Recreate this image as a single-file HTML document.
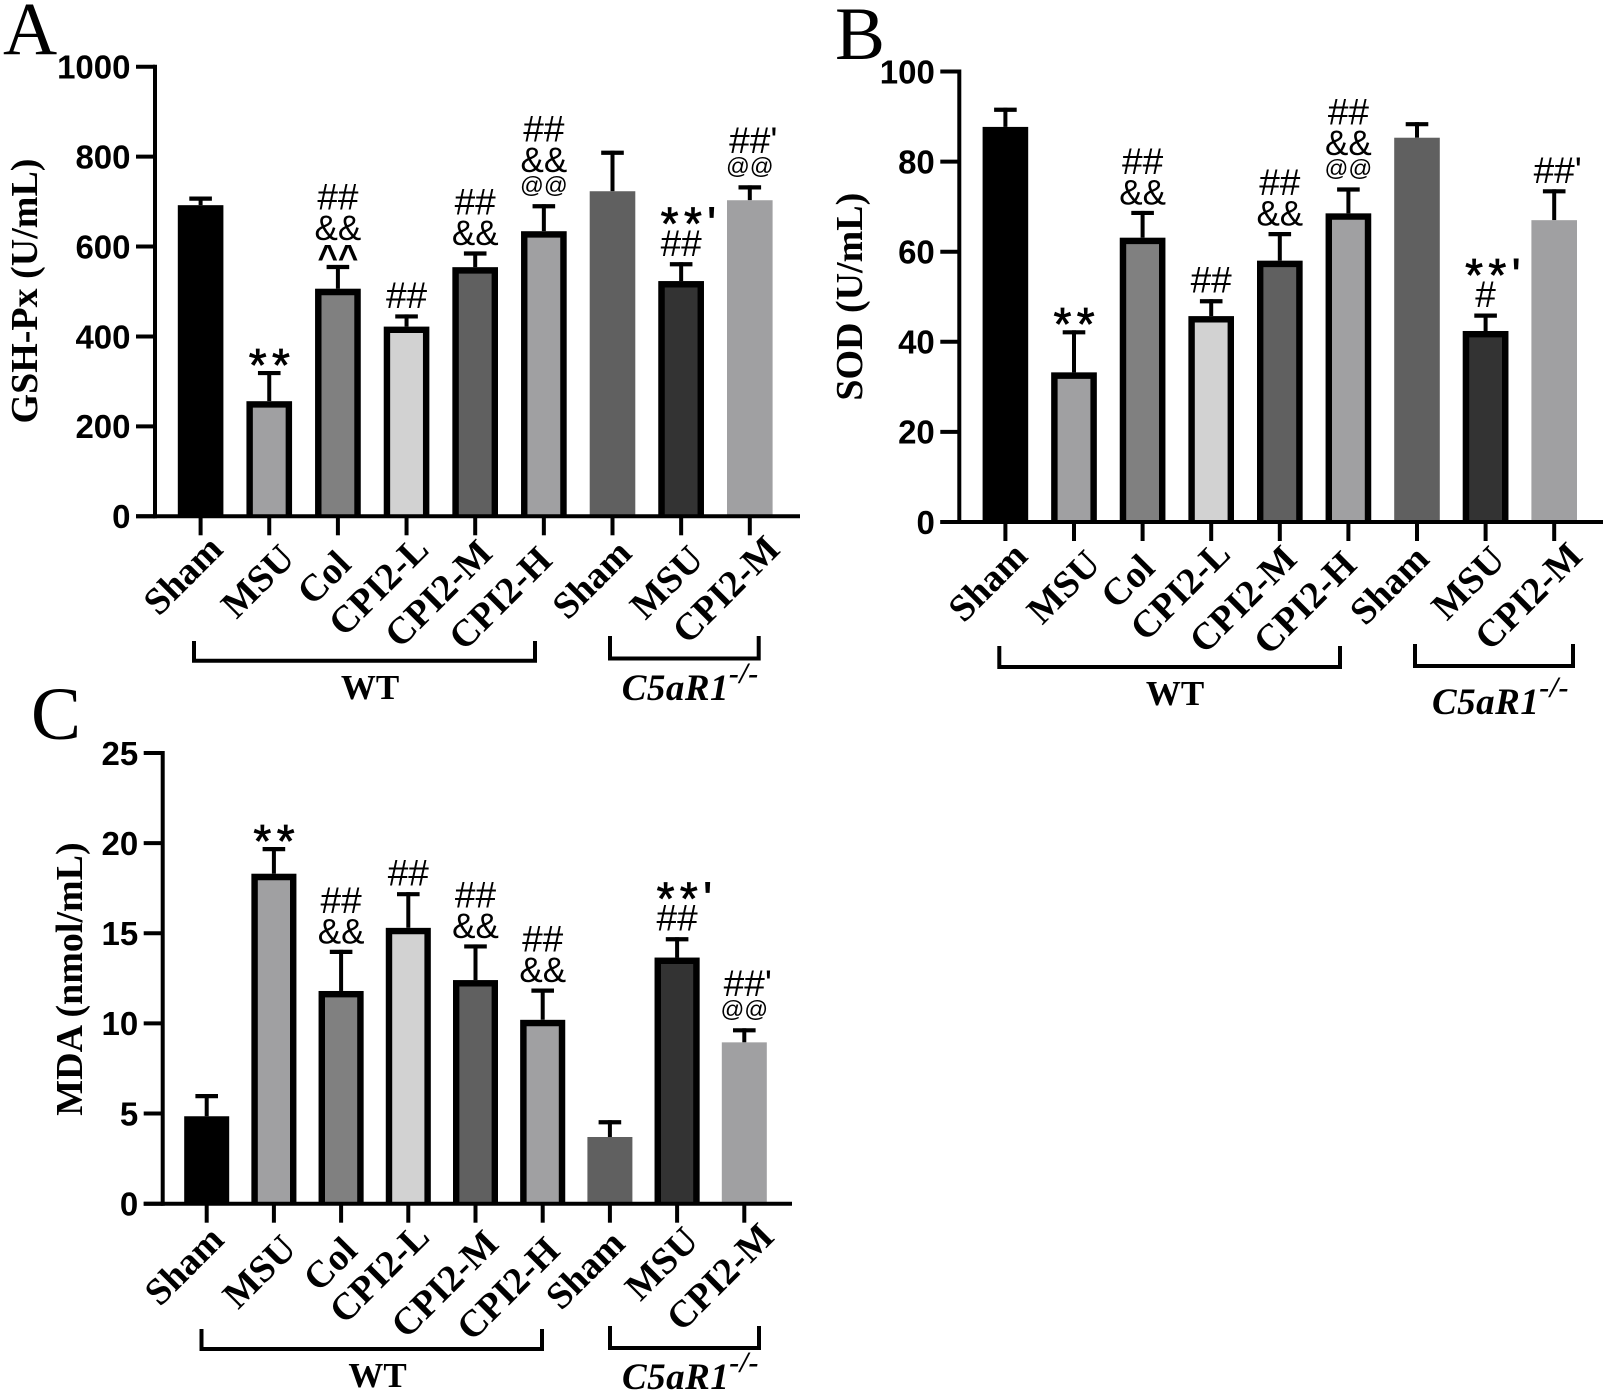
<!DOCTYPE html>
<html lang="en">
<head>
<meta charset="utf-8">
<title>GSH-Px, SOD and MDA bar charts</title>
<style>
html,body{margin:0;padding:0;background:#fff;width:1606px;height:1393px;overflow:hidden}
svg{display:block}
.serif{font-family:"Liberation Serif",serif}
.sans{font-family:"Liberation Sans",sans-serif}
</style>
</head>
<body>
<svg id="fig" xmlns="http://www.w3.org/2000/svg" width="1606" height="1393" viewBox="0 0 1606 1393"></svg>
<script>
// Categories and tick labels
const categories = ['Sham','MSU','Col','CPI2-L','CPI2-M','CPI2-H','Sham','MSU','CPI2-M'];
const ticksA = [0,200,400,600,800,1000];
const ticksB = [0,20,40,60,80,100];
const ticksC = [0,5,10,15,20,25];

// Series values (bar means)
const valuesA = [692,256,506,422,554,634,723,523,703];
const valuesB = [87.7,33.2,63.1,45.7,58,68.5,85.3,42.4,67];
const valuesC = [4.85,18.3,11.8,15.3,12.4,10.2,3.7,13.65,8.95];

// Upper end of each error bar
const errorTopsA = [711,323,559,449,589,694,813,565,736];
const errorTopsB = [91.95,42.55,69.05,49.45,64.35,74.25,88.75,46.25,73.85];
const errorTopsC = [6.08,19.78,14.08,17.28,14.38,11.93,4.63,14.78,9.73];

// Significance marks, bottom to top
const marksA = [[],['**'],['^^','&&','##'],['##'],['&&','##'],['@@','&&','##'],[],['##','**\''],['@@','##\'']];
const marksB = [[],['**'],['&&','##'],['##'],['&&','##'],['@@','&&','##'],[],['#','**\''],['##\'']];
const marksC = [[],['**'],['&&','##'],['##'],['&&','##'],['&&','##'],[],['##','**\''],['@@','##\'']];

const fills = ['#000000','#a0a0a2','#808080','#d2d2d2','#606060','#a0a0a2','#606060','#333333','#a0a0a2'];
const outlined = [false,true,true,true,true,true,false,true,false];

const NS = 'http://www.w3.org/2000/svg';
const fig = document.getElementById('fig');

function make(parent, tag, name, attrs, text) {
  const el = document.createElementNS(NS, tag);
  
  
  for (const k in attrs) el.setAttribute(k, attrs[k]);
  if (text !== undefined) el.textContent = text;
  parent.appendChild(el);
  return el;
}

// h: glyph height, drop: baseline offset below the glyph's visual bottom
const markStyle = {
  '##': {size:37, h:26.5, drop:0, weight:'normal'},
  '#':  {size:37, h:26.5, drop:0, weight:'normal'},
  '&&': {size:35, h:25.5, drop:0, weight:'normal'},
  '@@': {size:23.5, h:21, drop:-5, weight:'normal'},
  '^^': {size:35, h:13.4, drop:11, weight:'bold'},
  '**': {size:46, h:19, drop:13.8, weight:'normal'}
};

function drawPanel(p) {
  const g = make(fig, 'g', 'panel-' + p.id, {});
  const yScale = v => p.y0 + (p.yTop - p.y0) * (v / p.max);
  const xScale = i => p.first + i * p.step;

  make(g, 'text', 'panel-letter-' + p.id, {x:p.letter[0], y:p.letter[1], 'font-size':75, class:'serif'}, p.id);

  make(g, 'text', 'y-axis-title-' + p.id, {
    x:0, y:0, 'font-size':38, 'font-weight':'bold', class:'serif', 'text-anchor':'middle',
    transform:'translate(' + p.title[0] + ',' + p.title[1] + ') rotate(-90)'
  }, p.yLabel);

  // error bars, behind the bars
  p.errors.forEach((top, i) => {
    const x = xScale(i);
    make(g, 'line', 'error-stem-' + p.id + '-' + i, {x1:x, x2:x, y1:yScale(p.values[i]), y2:yScale(top), stroke:'#000', 'stroke-width':4});
    make(g, 'line', 'error-cap-' + p.id + '-' + i, {x1:x-11.3, x2:x+11.3, y1:yScale(top)+2, y2:yScale(top)+2, stroke:'#000', 'stroke-width':4.2});
  });

  // bars: solid fill plus an open three-sided outline
  p.values.forEach((v, i) => {
    const x = xScale(i), top = yScale(v), w = p.barW;
    make(g, 'rect', 'bar-' + p.id + '-' + i, {x:x - w/2, y:top, width:w, height:p.y0 - top, fill:fills[i]});
    if (outlined[i]) {
      const b = 6.4, l = x - w/2 + b/2, r = x + w/2 - b/2, t = top + b/2;
      make(g, 'path', 'bar-outline-' + p.id + '-' + i, {d:'M' + l + ' ' + p.y0 + 'V' + t + 'H' + r + 'V' + p.y0, fill:'none', stroke:'#000', 'stroke-width':b});
    }
  });

  // axes
  make(g, 'line', 'y-axis-' + p.id, {x1:p.axisX, x2:p.axisX, y1:p.yTop-2, y2:p.y0+2, stroke:'#000', 'stroke-width':4});
  make(g, 'line', 'x-axis-' + p.id, {x1:p.axisX-19, x2:p.axisEnd, y1:p.y0, y2:p.y0, stroke:'#000', 'stroke-width':4});

  p.ticks.forEach(t => {
    const y = yScale(t);
    make(g, 'line', 'y-tick-' + p.id + '-' + t, {x1:p.axisX-19, x2:p.axisX, y1:y, y2:y, stroke:'#000', 'stroke-width':4});
    make(g, 'text', 'y-tick-label-' + p.id + '-' + t, {x:p.axisX-24.5, y:y+11.8, 'font-size':33, 'font-weight':'bold', class:'sans', 'text-anchor':'end'}, t);
  });

  categories.forEach((c, i) => {
    const x = xScale(i);
    make(g, 'line', 'x-tick-' + p.id + '-' + i, {x1:x, x2:x, y1:p.y0, y2:p.y0+19, stroke:'#000', 'stroke-width':4});
    const n = p.labelNudge[i];
    make(g, 'text', 'x-tick-label-' + p.id + '-' + i, {
      x:0, y:0, 'font-size':38, 'font-weight':'bold', class:'serif', 'text-anchor':'end',
      transform:'translate(' + (x + n[0]) + ',' + (p.y0 + n[1]) + ') rotate(-45)'
    }, c);
  });

  // significance marks stacked above each error bar
  p.marks.forEach((stack, i) => {
    let bottom = yScale(p.errors[i]) - 6.5;
    stack.forEach((m, j) => {
      const key = m.replace("'", '');
      const s = markStyle[key];
      const label = 'significance-' + p.id + '-' + i + '-' + j;
      if (key === '**') {
        bottom += j > 0 ? 1.6 : 2.5;
        make(g, 'text', label, {
          x:xScale(i) - 20.5, y:bottom + s.drop, 'font-size':s.size, class:'sans',
          'letter-spacing':5.4, stroke:'#000', 'stroke-width':0.8
        }, m);
      } else {
        const shift = m.endsWith("'") ? 3.5 : 0;
        make(g, 'text', label, {
          x:xScale(i) + shift, y:bottom + s.drop, 'font-size':s.size, 'font-weight':s.weight, class:'sans', 'text-anchor':'middle'
        }, m);
      }
      bottom -= s.h + 5;
    });
  });

  // group brackets
  p.brackets.forEach((b, i) => {
    make(g, 'path', 'group-bracket-' + p.id + '-' + i, {d:'M' + b[0] + ' ' + b[2] + 'V' + b[3] + 'H' + b[1] + 'V' + b[2], fill:'none', stroke:'#000', 'stroke-width':4});
  });
  make(g, 'text', 'group-label-wt-' + p.id, {x:p.wt[0], y:p.wt[1], 'font-size':35, 'font-weight':'bold', class:'serif', 'text-anchor':'middle'}, 'WT');
  const ko = make(g, 'text', 'group-label-c5ar1-' + p.id, {x:p.ko[0], y:p.ko[1], 'font-size':37, 'font-weight':'bold', 'font-style':'italic', class:'serif', 'letter-spacing':0.5}, 'C5aR1');
  const sup = document.createElementNS(NS, 'tspan');
  
  
  sup.setAttribute('dy', '-17');
  sup.setAttribute('font-size', '30');
  sup.textContent = '-/-';
  ko.appendChild(sup);
}

drawPanel({
  id:'A', values:valuesA, errors:errorTopsA, marks:marksA, ticks:ticksA, max:1000, yLabel:'GSH-Px (U/mL)',
  axisX:155, axisEnd:800, yTop:66.7, y0:516.3, first:200.6, step:68.65, barW:45.6,
  letter:[3,54], title:[37,291],
  labelNudge:[[24,35],[27,44],[15,50],[24,35],[19,39],[10,46],[21,39],[24,45],[32,35]],
  brackets:[[194,535,641,660.7],[610,758.7,636,658.5]], wt:[370,699], ko:[621.7,700]
});
drawPanel({
  id:'B', values:valuesB, errors:errorTopsB, marks:marksB, ticks:ticksB, max:100, yLabel:'SOD (U/mL)',
  axisX:959.3, axisEnd:1603, yTop:71.5, y0:522, first:1005.4, step:68.6, barW:45.6,
  letter:[835,59], title:[862,296.7],
  labelNudge:[[24,36],[28,44],[14,48],[21,34],[19,39],[10,45],[14,39],[21,40],[30,36]],
  brackets:[[999.3,1340,646,667],[1415,1573,644,666]], wt:[1175,705], ko:[1432,714]
});
drawPanel({
  id:'C', values:valuesC, errors:errorTopsC, marks:marksC, ticks:ticksC, max:25, yLabel:'MDA (nmol/mL)',
  axisX:162.7, axisEnd:792, yTop:753, y0:1203.7, first:206.7, step:67.2, barW:45,
  letter:[31,739], title:[82,979],
  labelNudge:[[19,38],[24,47],[18,49],[23,35],[25,42],[19,49],[17,42],[23,39],[31.6,35]],
  brackets:[[201.5,542,1329,1349],[610,759,1326,1348]], wt:[377.5,1387], ko:[622,1389]
});
</script>
</body>
</html>
